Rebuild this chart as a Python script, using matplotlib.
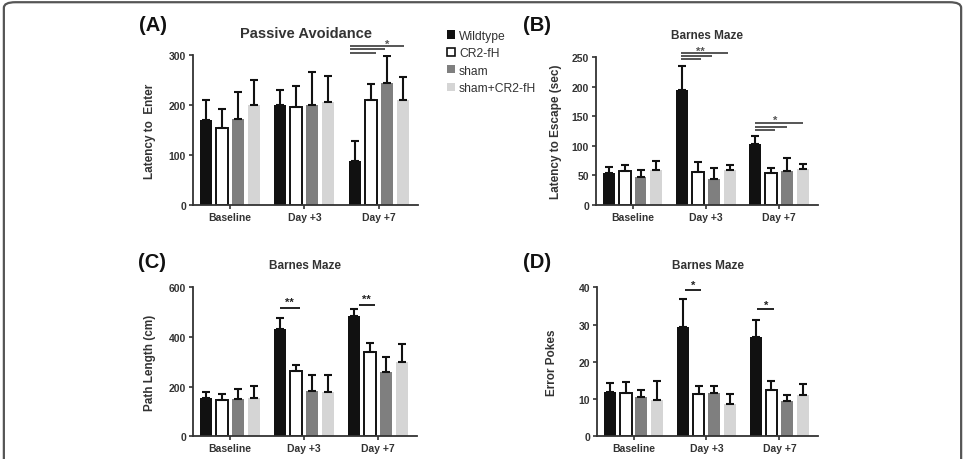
import matplotlib.pyplot as plt
import numpy as np
from matplotlib.patches import FancyBboxPatch, Patch

plt.rcParams['font.family'] = ['Liberation Sans', 'DejaVu Sans']

groups = ['Baseline', 'Day +3', 'Day +7']
series = ['Wildtype', 'CR2-fH', 'sham', 'sham+CR2-fH']
colors = ['#111111', '#ffffff', '#7f7f7f', '#d5d5d5']

# (A) passive avoidance - latency to enter
pa_mean = [[171, 201, 87], [155, 196, 211], [172, 200, 245], [200, 206, 211]]
pa_err = [[40, 29, 42], [37, 42, 31], [55, 67, 54], [50, 53, 46]]
# (B) barnes maze - latency to escape (sec)
bm_lat_mean = [[54, 194, 103], [58, 56, 54], [47, 44, 58], [59, 59, 60]]
bm_lat_err = [[11, 40, 13], [10, 16, 9], [12, 18, 21], [16, 9, 9]]
# (C) barnes maze - path length (cm)
bm_path_mean = [[153, 432, 483], [146, 263, 338], [150, 184, 258], [154, 180, 301]]
bm_path_err = [[24, 44, 30], [24, 26, 38], [41, 63, 60], [50, 67, 71]]
# (D) barnes maze - error pokes
bm_err_mean = [[11.8, 29.3, 26.6], [11.5, 11.3, 12.5], [10.5, 11.5, 9.4], [9.8, 8.8, 11.2]]
bm_err_err = [[2.5, 7.6, 4.6], [3.2, 2.3, 2.4], [1.9, 2.0, 1.6], [5.1, 2.6, 2.9]]

fig = plt.figure(figsize=(9.65, 4.6), dpi=100)

# rounded frame of the figure
frame = FancyBboxPatch((0.004, -0.05), 0.992, 1.043, boxstyle='round,pad=0,rounding_size=0.012',
                       transform=fig.transFigure, fill=False, edgecolor='#555555', linewidth=1.6)
fig.add_artist(frame)

dark = '#333333'
x = np.arange(len(groups))
step = 0.216
width = 0.162


def panel(rect, means, errs, ylim, yticks, ylabel, title, title_size, labx):
    ax = fig.add_axes(rect)
    for i in range(4):
        pos = x + (i - 1.5) * step
        ax.bar(pos, means[i], width, color=colors[i], edgecolor='#111111',
               linewidth=1.4 if i == 1 else 0, zorder=2)
        ax.errorbar(pos, means[i], yerr=[np.zeros(3), errs[i]], fmt='none', ecolor='#111111',
                    elinewidth=1.5, capsize=3, capthick=1.5, zorder=3)
    ax.set_xlim(-0.5, 2.53)
    ax.set_ylim(*ylim)
    ax.set_yticks(yticks)
    ax.set_xticks(x)
    ax.set_xticklabels(groups)
    for s in ['top', 'right']:
        ax.spines[s].set_visible(False)
    for s in ['left', 'bottom']:
        ax.spines[s].set_color(dark)
        ax.spines[s].set_linewidth(1.3)
    ax.tick_params(colors=dark, width=1.2, length=3, labelsize=7.5, pad=2)
    for t in ax.get_xticklabels() + ax.get_yticklabels():
        t.set_fontweight('bold')
    ax.set_ylabel(ylabel, fontsize=8.5, fontweight='bold', color=dark)
    ax.yaxis.set_label_coords(labx, 0.5)
    ax.text(0.5, 1.15, title, transform=ax.transAxes, ha='center', va='center',
            fontsize=title_size, fontweight='bold', color=dark)
    return ax


axA = panel([0.2, 0.5522, 0.2332, 0.326], pa_mean, pa_err, (0, 300), [0, 100, 200, 300],
            'Latency to  Enter', 'Passive Avoidance', 10.5, -0.165)
axB = panel([0.6176, 0.5522, 0.230, 0.3217], bm_lat_mean, bm_lat_err, (0, 250), [0, 50, 100, 150, 200, 250],
            'Latency to Escape (sec)', 'Barnes Maze', 8.5, -0.155)
axC = panel([0.2, 0.0493, 0.2321, 0.3239], bm_path_mean, bm_path_err, (0, 600), [0, 200, 400, 600],
            'Path Length (cm)', 'Barnes Maze', 8.5, -0.165)
axD = panel([0.6187, 0.0493, 0.229, 0.3239], bm_err_mean, bm_err_err, (0, 40), [0, 10, 20, 30, 40],
            'Error Pokes', 'Barnes Maze', 8.5, -0.175)

# panel letters
for lbl, xx, yy in [('(A)', 0.144, 0.945), ('(B)', 0.542, 0.945), ('(C)', 0.143, 0.43), ('(D)', 0.542, 0.43)]:
    fig.text(xx, yy, lbl, fontsize=14.5, fontweight='bold', color='#111111', ha='left', va='center')

# significance bars
sig_gray = '#555555'


def sig(ax, x0, ends, ys, star, sx, sy, color):
    for e, yv in zip(ends, ys):
        ax.plot([x0, e], [yv, yv], color=color, lw=1.4, clip_on=False, solid_capstyle='butt')
    ax.text(sx, sy, star, ha='center', va='center', fontsize=8, fontweight='bold', color=color, clip_on=False)


sig(axA, 1.62, [2.34, 2.09, 1.96], [318.6, 313, 305], '*', 2.12, 323, sig_gray)
sig(axB, 0.659, [1.30, 1.08, 0.93], [256, 251.7, 246.6], '**', 0.93, 260, sig_gray)
sig(axB, 1.67, [2.32, 2.11, 1.94], [138, 132, 126.7], '*', 1.94, 143, sig_gray)
sig(axC, 0.676, [0.946], [516.6], '**', 0.81, 540, '#222222')
sig(axC, 1.74, [1.96], [530], '**', 1.85, 553, '#222222')
sig(axD, 0.70, [0.93], [39.4], '*', 0.815, 40.6, '#222222')
sig(axD, 1.70, [1.93], [34.2], '*', 1.815, 35.4, '#222222')

# legend
handles = [Patch(facecolor=c, edgecolor='#111111', linewidth=1.2 if c == '#ffffff' else 0) for c in colors]
leg = fig.legend(handles, series, loc='upper left', bbox_to_anchor=(0.452, 0.957), frameon=False,
                 handlelength=0.68, handleheight=0.68, handletextpad=0.3, labelspacing=0.45,
                 prop={'size': 8.7})
for t in leg.get_texts():
    t.set_color('#333333')

fig.savefig('out.png', dpi=100)
